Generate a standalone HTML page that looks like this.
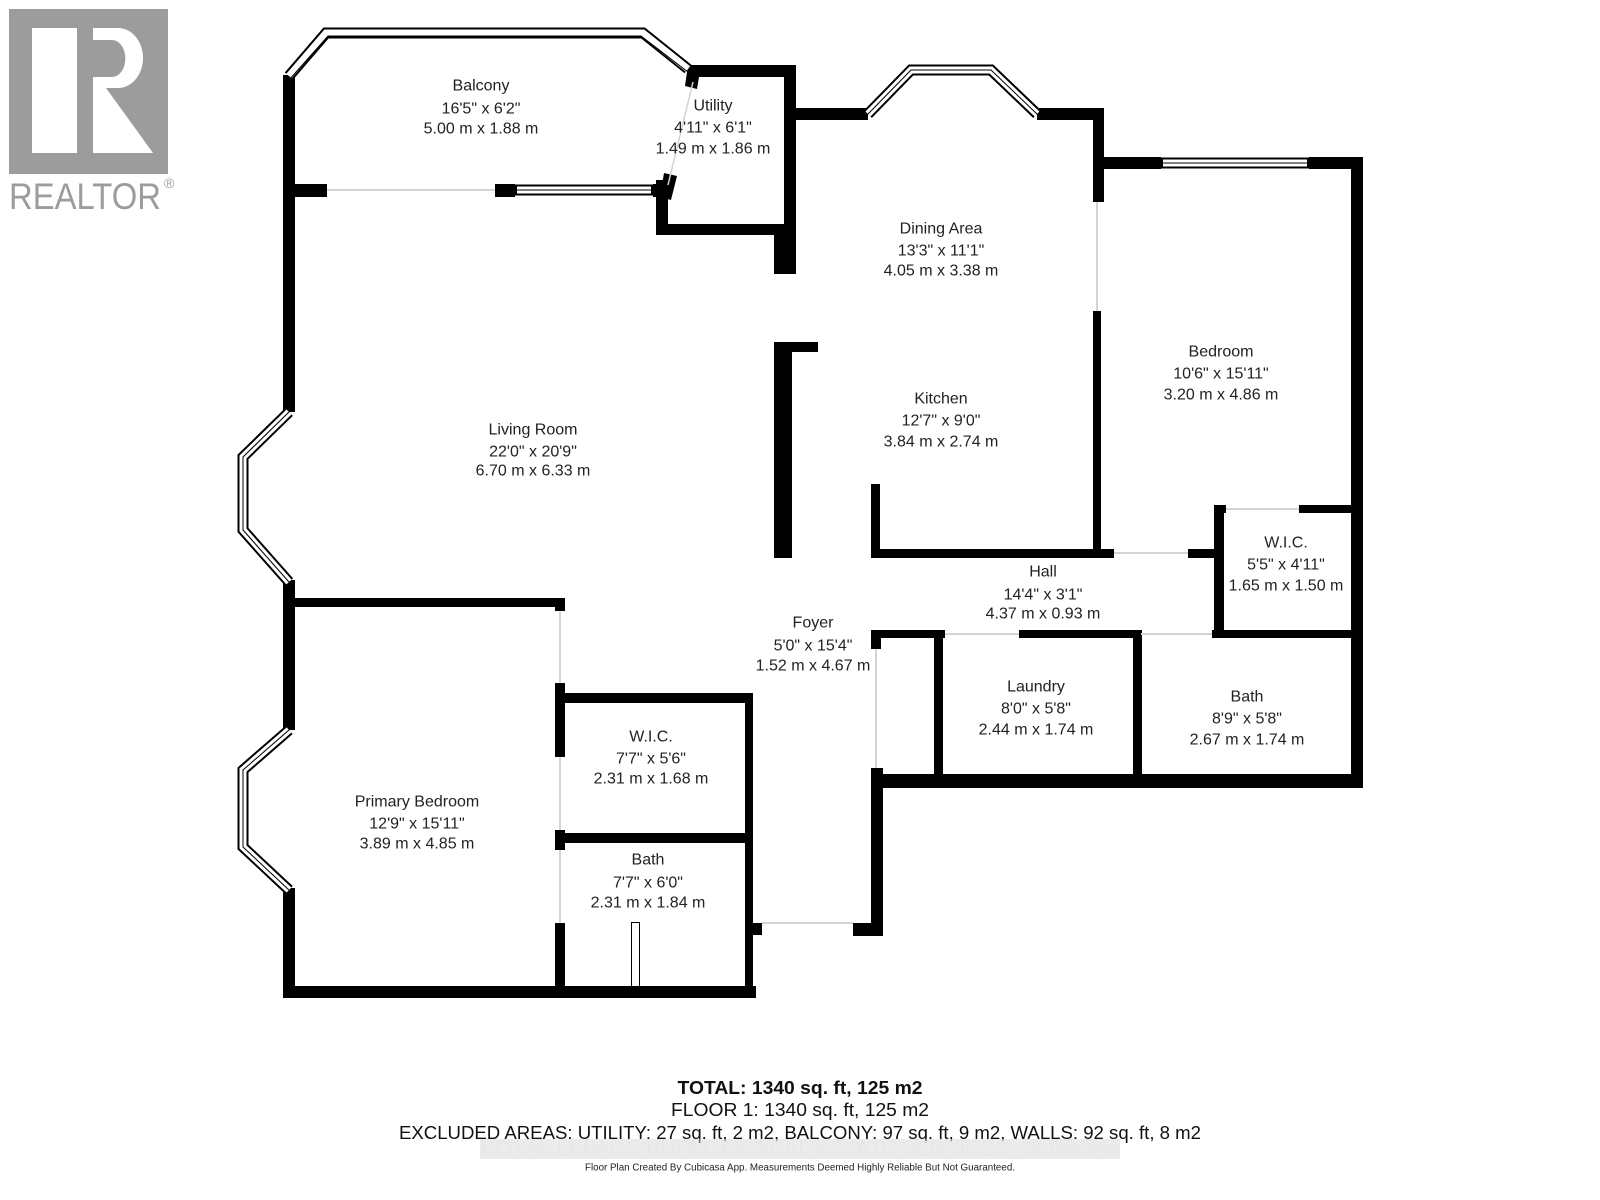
<!DOCTYPE html>
<html><head><meta charset="utf-8"><style>
html,body{margin:0;padding:0;background:#fff;}
svg{display:block;}
text{font-family:"Liberation Sans",sans-serif;}
</style></head><body>
<svg width="1600" height="1200" viewBox="0 0 1600 1200" xmlns="http://www.w3.org/2000/svg">
<rect width="1600" height="1200" fill="#fff"/>
<!-- Realtor logo -->
<rect x="9" y="9" width="159" height="165" fill="#9c9c9c"/>
<rect x="32" y="28" width="45" height="125" fill="#fff"/>
<path d="M93 28 H118 A25 30 0 0 1 118 88 H93 V77 H112 A13 18 0 0 0 112 40 H93 Z" fill="#fff"/>
<polygon points="93,88 106,88 153,153 93,153" fill="#fff"/>
<text x="9" y="209" font-size="37" fill="#9c9c9c" textLength="152" lengthAdjust="spacingAndGlyphs">REALTOR</text>
<text x="164" y="188" font-size="14" fill="#9c9c9c">®</text>

<g fill="#000">
<rect x="283" y="75" width="12" height="337"/>
<rect x="283" y="580" width="12" height="150"/>
<rect x="283" y="888" width="12" height="110"/>
<rect x="283" y="184" width="44" height="13"/>
<rect x="495" y="184" width="20" height="13"/>
<rect x="653" y="184" width="15" height="13"/>
<rect x="689" y="65" width="107" height="12"/>
<rect x="784" y="65" width="12" height="170"/>
<rect x="656" y="224" width="140" height="11"/>
<rect x="656" y="180" width="12" height="55"/>
<rect x="774" y="224" width="22" height="50"/>
<polygon points="688,65 701,65 697,89 685,86"/>
<polygon points="664,173 677,176 671,200 660,197"/>
<rect x="796" y="108" width="72" height="12"/>
<rect x="1037" y="108" width="67" height="12"/>
<rect x="1093" y="108" width="11" height="94"/>
<rect x="1093" y="311" width="8" height="247"/>
<rect x="1093" y="157" width="68" height="12"/>
<rect x="1309" y="157" width="54" height="12"/>
<rect x="1351" y="157" width="12" height="631"/>
<rect x="774" y="342" width="18" height="216"/>
<rect x="774" y="342" width="44" height="10"/>
<rect x="871" y="549" width="243" height="9"/>
<rect x="871" y="484" width="9" height="74"/>
<rect x="1188" y="549" width="36" height="9"/>
<rect x="1214" y="505" width="10" height="133"/>
<rect x="1214" y="505" width="12" height="8"/>
<rect x="1299" y="505" width="54" height="8"/>
<rect x="871" y="630" width="74" height="8"/>
<rect x="1019" y="630" width="122" height="8"/>
<rect x="1212" y="630" width="151" height="8"/>
<rect x="871" y="630" width="10" height="19"/>
<rect x="871" y="768" width="12" height="168"/>
<rect x="853" y="923" width="30" height="13"/>
<rect x="934" y="630" width="9" height="150"/>
<rect x="1133" y="630" width="9" height="150"/>
<rect x="871" y="774" width="492" height="14"/>
<rect x="283" y="598" width="282" height="9"/>
<rect x="555" y="598" width="10" height="13"/>
<rect x="555" y="683" width="10" height="74"/>
<rect x="555" y="830" width="10" height="20"/>
<rect x="555" y="923" width="10" height="75"/>
<rect x="555" y="693" width="197" height="10"/>
<rect x="745" y="693" width="8" height="305"/>
<rect x="745" y="923" width="17" height="12"/>
<rect x="555" y="833" width="190" height="10"/>
<rect x="283" y="986" width="473" height="12"/>
</g>
<rect x="631.5" y="922.5" width="8" height="64" fill="#fff" stroke="#000" stroke-width="1"/>

<g stroke="#d4d4d4" stroke-width="2">
<line x1="327" y1="190" x2="495" y2="190"/>
<line x1="1097" y1="202" x2="1097" y2="311"/>
<line x1="1226" y1="509" x2="1299" y2="509"/>
<line x1="945" y1="634" x2="1019" y2="634"/>
<line x1="1141" y1="634" x2="1212" y2="634"/>
<line x1="876" y1="649" x2="876" y2="768"/>
<line x1="560" y1="611" x2="560" y2="683"/>
<line x1="560" y1="757" x2="560" y2="830"/>
<line x1="560" y1="850" x2="560" y2="923"/>
<line x1="762" y1="923" x2="853" y2="923"/>
<line x1="1114" y1="553" x2="1188" y2="553"/>
<line x1="693" y1="82" x2="668" y2="185" stroke-width="1.5"/>
</g>

<g fill="none" stroke-linejoin="miter">
<g stroke="#000" stroke-width="11">
<polyline points="289,76 326,33 643,33 688,69"/>
<line x1="515" y1="190" x2="653" y2="190"/>
<polyline points="289,412 243,457 243,530 289,582"/>
<polyline points="289,730 243,770 243,847 289,890"/>
<polyline points="868,114 911,70 991,70 1037,114"/>
<line x1="1161" y1="163" x2="1309" y2="163"/>
</g>
<g stroke="#fff" stroke-width="7">
<polyline points="289,76 326,33 643,33 688,69"/>
<line x1="517" y1="190" x2="651" y2="190"/>
<polyline points="289,412 243,457 243,530 289,582"/>
<polyline points="289,730 243,770 243,847 289,890"/>
<polyline points="868,114 911,70 991,70 1037,114"/>
<line x1="1163" y1="163" x2="1307" y2="163"/>
</g>
<g stroke="#000" stroke-width="1">
<polyline points="289,80 328,36 641,36 688,72"/>
<line x1="517" y1="190" x2="651" y2="190"/>
<polyline points="289,412 243,457 243,530 289,582"/>
<polyline points="289,730 243,770 243,847 289,890"/>
<polyline points="868,114 911,70 991,70 1037,114"/>
<line x1="1163" y1="163" x2="1307" y2="163"/>
</g>
</g>

<g font-size="16" fill="#222" text-anchor="middle" dominant-baseline="central">
<text x="481" y="86">Balcony</text><text x="481" y="109">16'5" x 6'2"</text><text x="481" y="129">5.00 m x 1.88 m</text>
<text x="713" y="106">Utility</text><text x="713" y="128">4'11" x 6'1"</text><text x="713" y="149">1.49 m x 1.86 m</text>
<text x="941" y="229">Dining Area</text><text x="941" y="251">13'3" x 11'1"</text><text x="941" y="271">4.05 m x 3.38 m</text>
<text x="1221" y="352">Bedroom</text><text x="1221" y="374">10'6" x 15'11"</text><text x="1221" y="395">3.20 m x 4.86 m</text>
<text x="533" y="430">Living Room</text><text x="533" y="452">22'0" x 20'9"</text><text x="533" y="471">6.70 m x 6.33 m</text>
<text x="941" y="399">Kitchen</text><text x="941" y="421">12'7" x 9'0"</text><text x="941" y="442">3.84 m x 2.74 m</text>
<text x="1286" y="543">W.I.C.</text><text x="1286" y="565">5'5" x 4'11"</text><text x="1286" y="586">1.65 m x 1.50 m</text>
<text x="1043" y="572">Hall</text><text x="1043" y="595">14'4" x 3'1"</text><text x="1043" y="614">4.37 m x 0.93 m</text>
<text x="813" y="623">Foyer</text><text x="813" y="646">5'0" x 15'4"</text><text x="813" y="666">1.52 m x 4.67 m</text>
<text x="1036" y="687">Laundry</text><text x="1036" y="709">8'0" x 5'8"</text><text x="1036" y="730">2.44 m x 1.74 m</text>
<text x="1247" y="697">Bath</text><text x="1247" y="719">8'9" x 5'8"</text><text x="1247" y="740">2.67 m x 1.74 m</text>
<text x="651" y="737">W.I.C.</text><text x="651" y="759">7'7" x 5'6"</text><text x="651" y="779">2.31 m x 1.68 m</text>
<text x="417" y="802">Primary Bedroom</text><text x="417" y="824">12'9" x 15'11"</text><text x="417" y="844">3.89 m x 4.85 m</text>
<text x="648" y="860">Bath</text><text x="648" y="883">7'7" x 6'0"</text><text x="648" y="903">2.31 m x 1.84 m</text>
</g>

<g text-anchor="middle" dominant-baseline="central" fill="#111">
<text x="800" y="1088" font-size="18" font-weight="bold" textLength="245" lengthAdjust="spacingAndGlyphs">TOTAL: 1340 sq. ft, 125 m2</text>
<text x="800" y="1110" font-size="18" textLength="258" lengthAdjust="spacingAndGlyphs">FLOOR 1: 1340 sq. ft, 125 m2</text>
<text x="800" y="1133" font-size="18" textLength="802" lengthAdjust="spacingAndGlyphs">EXCLUDED AREAS: UTILITY: 27 sq. ft, 2 m2, BALCONY: 97 sq. ft, 9 m2, WALLS: 92 sq. ft, 8 m2</text>
</g>
<rect x="480" y="1139" width="640" height="20" fill="#d8d8d8" opacity="0.5"/>
<text x="800" y="1149" font-size="20" fill="#e8e8e8" text-anchor="middle" dominant-baseline="central" textLength="640" lengthAdjust="spacingAndGlyphs">ROYAL LEPAGE BURLOAK REAL ESTATE SERVICES, Brokerage</text>
<text x="800" y="1168" font-size="10" fill="#222" text-anchor="middle" dominant-baseline="central" textLength="430" lengthAdjust="spacingAndGlyphs">Floor Plan Created By Cubicasa App. Measurements Deemed Highly Reliable But Not Guaranteed.</text>
</svg>
</body></html>
